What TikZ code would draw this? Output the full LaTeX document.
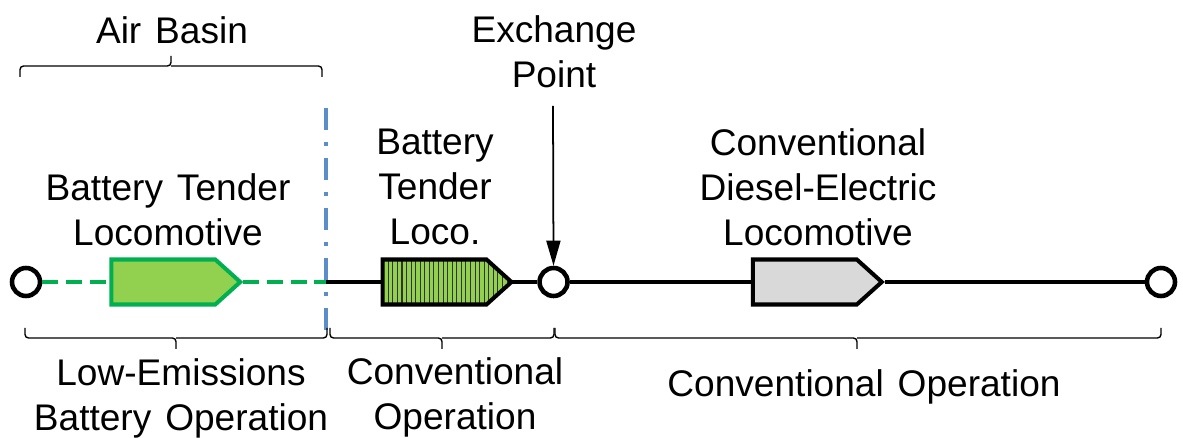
\documentclass[tikz,border=0pt]{standalone}
\usepackage{fontspec}
\setmainfont[WordSpace=1.35]{Liberation Sans}
\usepackage{xcolor}
\usetikzlibrary{shapes.symbols, arrows.meta, positioning, patterns.meta}
\definecolor{basingreen}{RGB}{0, 176, 80}
\definecolor{tendergreen}{RGB}{146, 208, 80}
\definecolor{dieselgray}{RGB}{217, 217, 217}
\definecolor{boundblue}{RGB}{91, 141, 201}

\begin{document}
\begin{tikzpicture}[
    x=0.02cm, y=-0.02cm,
    stop/.style={circle, draw, line width=2.6pt, fill=white, minimum size=0.56cm, inner sep=0pt},
    loco/.style={signal, signal to=east, signal pointer angle=84, line width=2.3pt, minimum width=2.58cm, minimum height=0.9cm, inner sep=0pt},
    track/.style={line width=1.8pt},
    basintrack/.style={line width=1.8pt, basingreen, dash pattern=on 9pt off 4.5pt},
    bracebar/.style={line width=0.8pt, rounded corners=2pt},
    caption/.style={align=center, font=\fontsize{21.1}{25.6}\selectfont}
]
\useasboundingbox (0,0) rectangle (1183,438);

% Stops and locomotives along the line
\node[stop] (origin) at (26,282) {};
\node[loco, draw=basingreen, fill=tendergreen, right=1.34cm of origin] (batt) {};
\coordinate (edge) at (326,282);
\node[loco, draw=black, preaction={fill=tendergreen}, pattern={Lines[angle=90, distance=2.6pt, line width=0.6pt]}, pattern color=black!80, right=1.12cm of edge] (tender) {};
\node[stop, right=0.5cm of tender] (exchange) {};
\node[loco, draw=black, fill=dieselgray, right=3.62cm of exchange] (diesel) {};
\node[stop] (dest) at (1161,282) {};

% Line segments
\draw[basintrack] (origin) -- (batt);
\draw[basintrack] (batt) -- (edge);
\draw[track] (edge) -- (tender);
\draw[track] (tender) -- (exchange);
\draw[track] (exchange) -- (diesel);
\draw[track] (diesel) -- (dest);

% Air basin boundary
\coordinate (boundtop) at (326,108);
\coordinate (boundbot) at (326,330);
\draw[boundblue, line width=2.2pt, dash pattern=on 12.5pt off 7pt on 2pt off 7pt] (boundtop) -- (boundbot);

% Top labels
\node[caption] (airlabel) at (172,30) {Air Basin};
\node[caption] (pointlabel) at (554,52) {Exchange\\Point};
\node[caption] (battlabel) at (168,210) {Battery Tender\\Locomotive};
\node[caption] (tenderlabel) at (435,187) {Battery\\Tender\\Loco.};
\node[caption] (diesellabel) at (818,187) {Conventional\\Diesel-Electric\\Locomotive};

% Arrow to the exchange point
\coordinate (pointtop) at (553,106);
\draw[-{Stealth[length=0.5cm, width=0.28cm, inset=0pt]}, line width=1pt] (pointtop) -- (exchange);

% Braces
\coordinate (airL) at (20,77);
\coordinate (airR) at (322,77);
\coordinate (airM) at (171,66);
\coordinate (airT) at (171,56);
\draw[bracebar] (airL) |- (airM) -- (airT) (airR) |- (airM);
\coordinate (lowL) at (25,328);
\coordinate (lowR) at (327,328);
\coordinate (lowM) at (176,338);
\coordinate (lowT) at (176,349);
\draw[bracebar] (lowL) |- (lowM) -- (lowT) (lowR) |- (lowM);
\coordinate (convL) at (330,328);
\coordinate (convR) at (554,328);
\coordinate (convM) at (442,338);
\coordinate (convT) at (442,349);
\draw[bracebar] (convL) |- (convM) -- (convT) (convR) |- (convM);
\coordinate (mainL) at (555,328);
\coordinate (mainR) at (1161,328);
\coordinate (mainM) at (857,338);
\coordinate (mainT) at (857,349);
\draw[bracebar] (mainL) |- (mainM) -- (mainT) (mainR) |- (mainM);

% Bottom labels
\node[caption] (lowlabel) at (181,398) {Low-Emissions\\Battery Operation};
\node[caption] (convlabel) at (455,397) {Conventional\\Operation};
\node[caption] (mainlabel) at (864,387) {Conventional Operation};

\end{tikzpicture}
\end{document}
